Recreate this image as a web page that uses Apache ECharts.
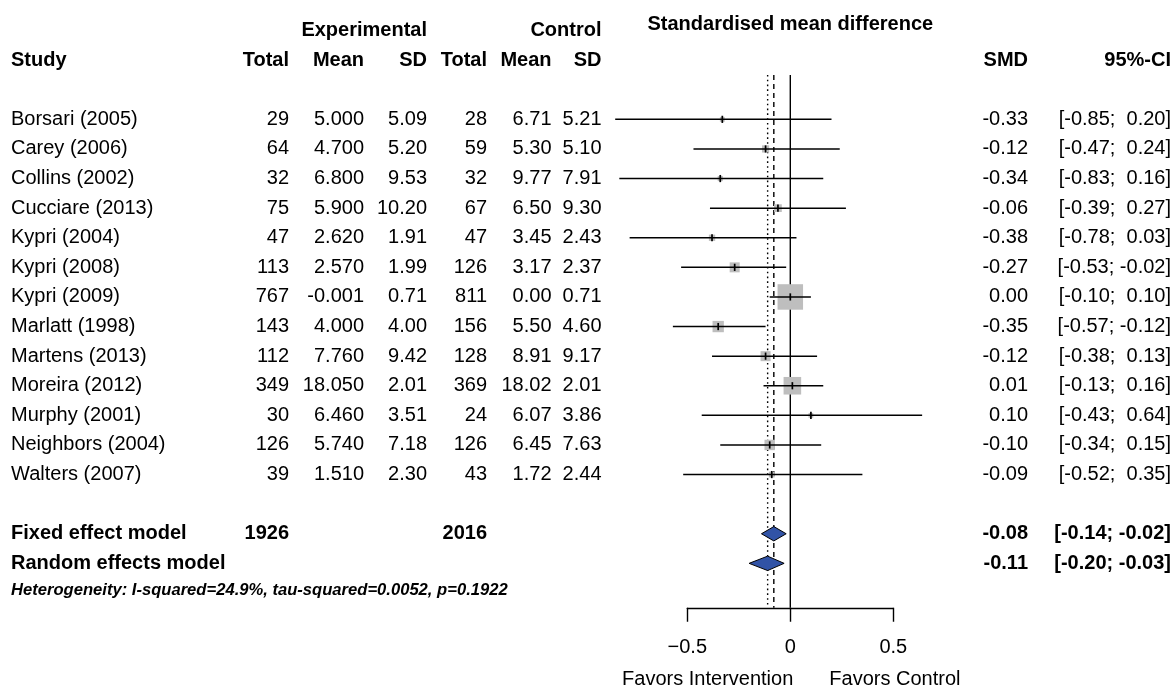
<!DOCTYPE html>
<html>
<head>
<meta charset="utf-8">
<title>Forest plot: standardised mean difference</title>
<script src="https://cdn.jsdelivr.net/npm/echarts@6/dist/echarts.min.js"></script>
<style>
  html, body { margin: 0; padding: 0; background: #ffffff; }
  #chart { width: 1174px; height: 687px; }
</style>
</head>
<body>
<div id="chart"></div>
<script>
// ---- Study data ----
const studies = ['Borsari (2005)', 'Carey (2006)', 'Collins (2002)', 'Cucciare (2013)', 'Kypri (2004)',
  'Kypri (2008)', 'Kypri (2009)', 'Marlatt (1998)', 'Martens (2013)', 'Moreira (2012)',
  'Murphy (2001)', 'Neighbors (2004)', 'Walters (2007)'];
const expTotal = [29, 64, 32, 75, 47, 113, 767, 143, 112, 349, 30, 126, 39];
const expMean = [5.000, 4.700, 6.800, 5.900, 2.620, 2.570, -0.001, 4.000, 7.760, 18.050, 6.460, 5.740, 1.510];
const expSD = [5.09, 5.20, 9.53, 10.20, 1.91, 1.99, 0.71, 4.00, 9.42, 2.01, 3.51, 7.18, 2.30];
const ctrlTotal = [28, 59, 32, 67, 47, 126, 811, 156, 128, 369, 24, 126, 43];
const ctrlMean = [6.71, 5.30, 9.77, 6.50, 3.45, 3.17, 0.00, 5.50, 8.91, 18.02, 6.07, 6.45, 1.72];
const ctrlSD = [5.21, 5.10, 7.91, 9.30, 2.43, 2.37, 0.71, 4.60, 9.17, 2.01, 3.86, 7.63, 2.44];
const smd = [-0.33, -0.12, -0.34, -0.06, -0.38, -0.27, 0.00, -0.35, -0.12, 0.01, 0.10, -0.10, -0.09];
const ciLow = [-0.85, -0.47, -0.83, -0.39, -0.78, -0.53, -0.10, -0.57, -0.38, -0.13, -0.43, -0.34, -0.52];
const ciHigh = [0.20, 0.24, 0.16, 0.27, 0.03, -0.02, 0.10, -0.12, 0.13, 0.16, 0.64, 0.15, 0.35];

// ---- Pooled estimates ----
const fixedSMD = -0.08, fixedLow = -0.14, fixedHigh = -0.02;
const randomSMD = -0.11, randomLow = -0.20, randomHigh = -0.03;
const hetI2 = 24.9, hetTau2 = 0.0052, hetP = 0.1922;

// ---- Axis ----
const xTicks = [-0.5, 0, 0.5];
const axisLabelLeft = 'Favors Intervention';
const axisLabelRight = 'Favors Control';
const plotTitle = 'Standardised mean difference';

// ---- Layout ----
const FONT = '"Liberation Sans", Arial, Helvetica, sans-serif';
const COL = { study: 11, eTot: 289, eMean: 364, eSD: 427, cTot: 487, cMean: 551.5, cSD: 601.5, smd: 1028, ci: 1171 };
const nStudy = studies.length;
const fixedRow = nStudy + 1;
const randomRow = nStudy + 2;
const hetRow = nStudy + 2.9;
const headRow = -2, groupRow = -3, titleRow = -3.22, favorsRow = 18.93;
const lineTopRow = -1.5, lineBottomRow = 16.5;

// inverse-variance weights from the confidence intervals give the box sizes
const wts = ciLow.map((l, i) => { const se = (ciHigh[i] - l) / (2 * 1.959964); return 1 / (se * se); });
const wMax = Math.max.apply(null, wts);
const BOX_MAX = 25.5;

function fmt(v, d) { return (v < 0 ? '-' : '') + Math.abs(v).toFixed(d); }
function fmtCI(l, h) {
  const pad = s => (s.charAt(0) === '-' ? s : ' ' + s);
  return '[' + pad(fmt(l, 2)) + '; ' + pad(fmt(h, 2)) + ']';
}
function sum(a) { return a.reduce((s, v) => s + v, 0); }

// ---- Table rows (text drawn beside the plot) ----
const tableRows = [];
tableRows.push({ row: groupRow, cells: [
  ['Experimental', COL.eSD, 'right', true], ['Control', COL.cSD, 'right', true]] });
tableRows.push({ row: titleRow, cells: [[plotTitle, 'x0', 'center', true]] });
tableRows.push({ row: headRow, cells: [
  ['Study', COL.study, 'left', true], ['Total', COL.eTot, 'right', true], ['Mean', COL.eMean, 'right', true],
  ['SD', COL.eSD, 'right', true], ['Total', COL.cTot, 'right', true], ['Mean', COL.cMean, 'right', true],
  ['SD', COL.cSD, 'right', true], ['SMD', COL.smd, 'right', true], ['95%-CI', COL.ci, 'right', true]] });
studies.forEach((s, i) => {
  tableRows.push({ row: i, cells: [
    [s, COL.study, 'left'], [String(expTotal[i]), COL.eTot, 'right'], [fmt(expMean[i], 3), COL.eMean, 'right'],
    [fmt(expSD[i], 2), COL.eSD, 'right'], [String(ctrlTotal[i]), COL.cTot, 'right'],
    [fmt(ctrlMean[i], 2), COL.cMean, 'right'], [fmt(ctrlSD[i], 2), COL.cSD, 'right'],
    [fmt(smd[i], 2), COL.smd, 'right'], [fmtCI(ciLow[i], ciHigh[i]), COL.ci, 'right']] });
});
tableRows.push({ row: fixedRow, cells: [
  ['Fixed effect model', COL.study, 'left', true], [String(sum(expTotal)), COL.eTot, 'right', true],
  [String(sum(ctrlTotal)), COL.cTot, 'right', true], [fmt(fixedSMD, 2), COL.smd, 'right', true],
  [fmtCI(fixedLow, fixedHigh), COL.ci, 'right', true]] });
tableRows.push({ row: randomRow, cells: [
  ['Random effects model', COL.study, 'left', true], [fmt(randomSMD, 2), COL.smd, 'right', true],
  [fmtCI(randomLow, randomHigh), COL.ci, 'right', true]] });
tableRows.push({ row: hetRow, cells: [
  ['Heterogeneity: I-squared=' + hetI2.toFixed(1) + '%, tau-squared=' + hetTau2.toFixed(4) + ', p=' + hetP.toFixed(4),
   COL.study, 'left', true, { fontSize: 16.6, fontStyle: 'italic' }]] });
tableRows.push({ row: favorsRow, cells: [
  [axisLabelLeft, 'x0+3', 'right'], [axisLabelRight, 'x0+39', 'left']] });

function textEl(x, y, s, align, bold, extra) {
  return {
    type: 'text', silent: true,
    style: Object.assign({
      text: s, x: x, y: y, align: align, textAlign: align, verticalAlign: 'middle', textVerticalAlign: 'middle',
      fontSize: 20, fontWeight: bold ? 'bold' : 'normal', fontFamily: FONT, fill: '#000'
    }, extra || {})
  };
}

const chart = echarts.init(document.getElementById('chart'), null, { renderer: 'canvas' });

const option = {
  backgroundColor: '#ffffff',
  animation: false,
  grid: { left: 687.3, right: 280.7, top: 15.75, bottom: 79.25, containLabel: false },
  xAxis: {
    type: 'value', min: xTicks[0], max: xTicks[xTicks.length - 1], interval: xTicks[1] - xTicks[0],
    axisLine: { show: true, onZero: false, lineStyle: { color: '#000', width: 1.4 } },
    axisTick: { show: true, inside: false, length: 14, lineStyle: { color: '#000', width: 1.4 } },
    axisLabel: {
      show: true, margin: 30, color: '#000', fontSize: 20, fontFamily: FONT,
      formatter: v => (v < 0 ? '\u2212' + Math.abs(v) : String(v))
    },
    splitLine: { show: false }
  },
  yAxis: { type: 'value', inverse: true, min: -3.5, max: 16.5, show: false, splitLine: { show: false } },
  series: [
    {
      // reference line at 0 and the pooled-estimate lines
      type: 'custom', z: 1, clip: false, silent: true,
      data: [[0, 0], [fixedSMD, 1], [randomSMD, 2]],
      renderItem: (params, api) => {
        const x = api.value(0), kind = api.value(1);
        const p1 = api.coord([x, lineTopRow]), p2 = api.coord([x, lineBottomRow]);
        const dash = kind === 0 ? null : (kind === 1 ? [5, 4] : [1.6, 3.2]);
        return { type: 'line', shape: { x1: p1[0], y1: p1[1], x2: p2[0], y2: p2[1] },
          style: { stroke: '#000', lineWidth: 1.4, lineDash: dash } };
      }
    },
    {
      // weight boxes
      type: 'custom', z: 2, clip: false, silent: true,
      data: smd.map((v, i) => [v, i, wts[i]]),
      renderItem: (params, api) => {
        const c = api.coord([api.value(0), api.value(1)]);
        const side = BOX_MAX * Math.sqrt(api.value(2) / wMax);
        return { type: 'rect', shape: { x: c[0] - side / 2, y: c[1] - side / 2, width: side, height: side },
          style: { fill: '#bebebe' } };
      }
    },
    {
      // confidence interval whiskers with the point estimate tick
      type: 'custom', z: 3, clip: false, silent: true,
      data: smd.map((v, i) => [ciLow[i], ciHigh[i], v, i]),
      renderItem: (params, api) => {
        const row = api.value(3);
        const a = api.coord([api.value(0), row]), b = api.coord([api.value(1), row]);
        const m = api.coord([api.value(2), row]);
        return { type: 'group', children: [
          { type: 'line', shape: { x1: a[0], y1: a[1], x2: b[0], y2: b[1] }, style: { stroke: '#000', lineWidth: 1.5 } },
          { type: 'line', shape: { x1: m[0], y1: m[1] - 3.6, x2: m[0], y2: m[1] + 3.6 }, style: { stroke: '#000', lineWidth: 1.7 } }
        ] };
      }
    },
    {
      // pooled diamonds
      type: 'custom', z: 4, clip: false, silent: true,
      data: [[fixedSMD, fixedLow, fixedHigh, fixedRow], [randomSMD, randomLow, randomHigh, randomRow]],
      renderItem: (params, api) => {
        const row = api.value(3);
        const m = api.coord([api.value(0), row]);
        const l = api.coord([api.value(1), row]);
        const h = api.coord([api.value(2), row]);
        const hh = 7.2;
        return { type: 'polygon', shape: { points: [[l[0], l[1]], [m[0], m[1] - hh], [h[0], h[1]], [m[0], m[1] + hh]] },
          style: { fill: '#3153a6', stroke: '#000', lineWidth: 1 } };
      }
    },
    {
      // study table text
      type: 'custom', z: 5, clip: false, silent: true,
      data: tableRows.map(r => [0, r.row]),
      renderItem: (params, api) => {
        const r = tableRows[params.dataIndex];
        const c0 = api.coord([0, api.value(1)]);
        const y = c0[1];
        return { type: 'group', children: r.cells.map(cell => {
          let x = cell[1];
          if (typeof x === 'string') { x = c0[0] + (x.length > 2 ? Number(x.slice(2)) : 0); }
          return textEl(x, y, cell[0], cell[2], cell[3], cell[4]);
        }) };
      }
    }
  ]
};
chart.setOption(option);
</script>
</body>
</html>
